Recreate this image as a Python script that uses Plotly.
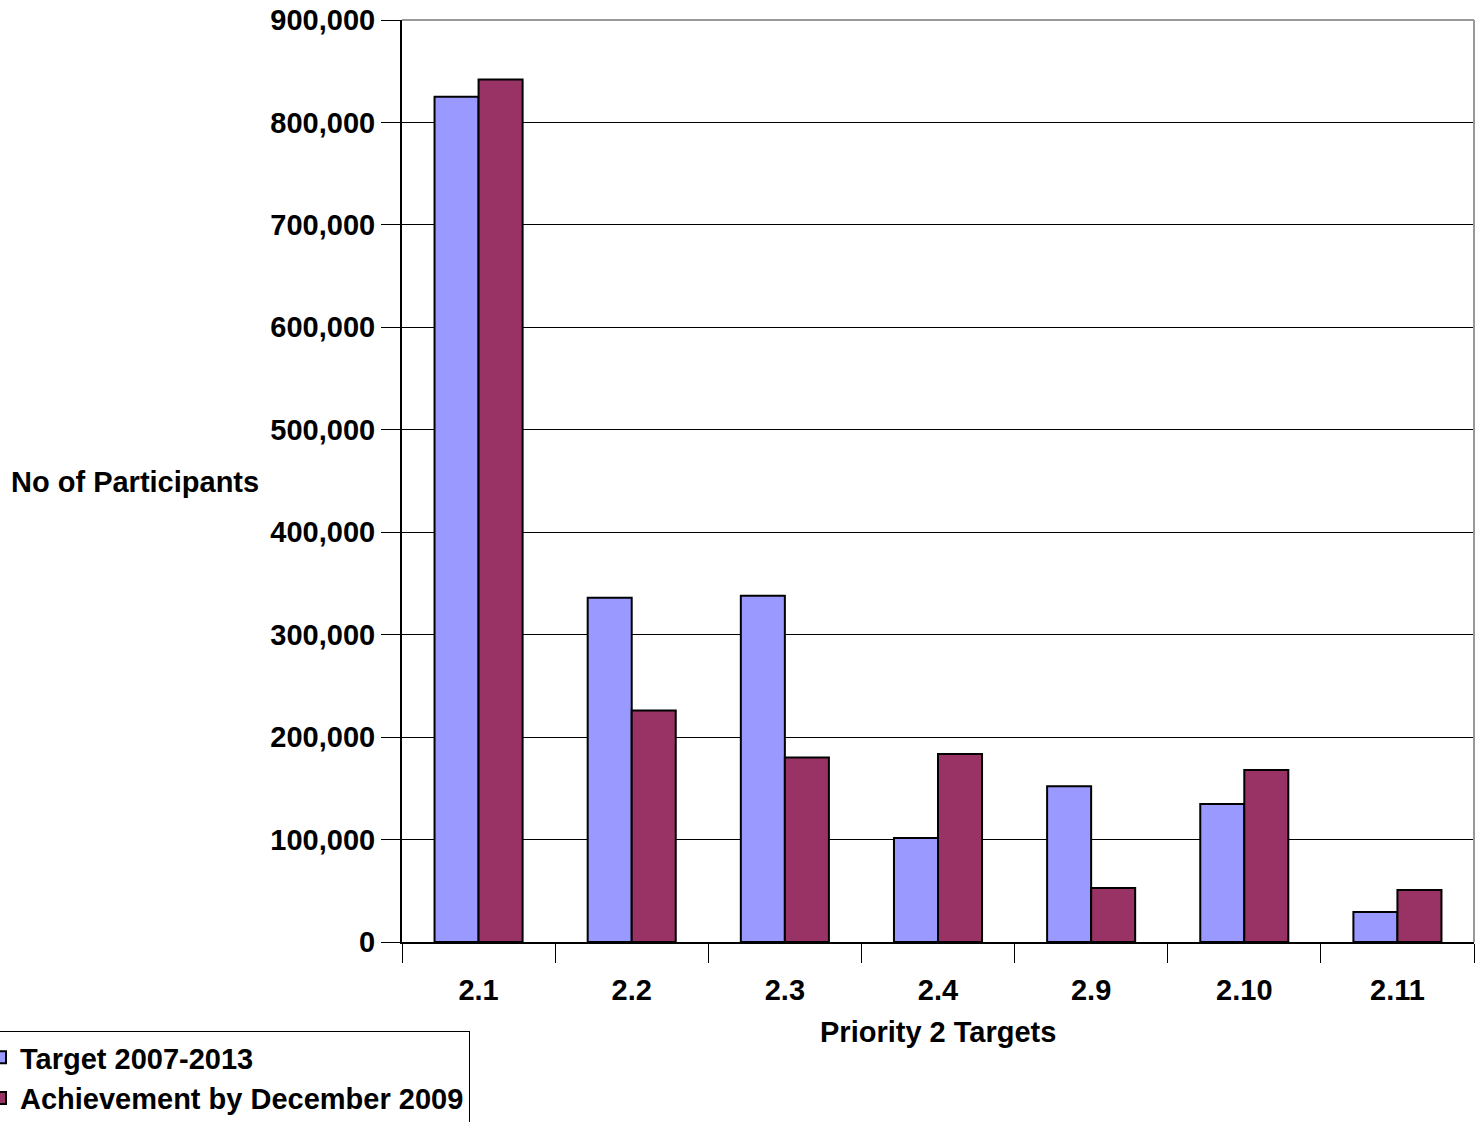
import plotly.graph_objects as go

categories = ["2.1", "2.2", "2.3", "2.4", "2.9", "2.10", "2.11"]
target = [825000, 336000, 338000, 101500, 152000, 134700, 29300]
achievement = [842000, 226000, 180000, 183500, 52700, 168000, 50800]
series_names = ["Target 2007-2013", "Achievement by December 2009"]
colors = ["#9999FF", "#993366"]

W, H = 1483, 1122
L, R, T, B = 402, 9, 20, 180
FONT = "Liberation Sans, Arial, sans-serif"
FS = 29

fig = go.Figure()
for name, vals, col, grp in [(series_names[0], target, colors[0], "a"),
                             (series_names[1], achievement, colors[1], "b")]:
    fig.add_trace(go.Bar(
        x=categories, y=vals, name=name, legendgroup=grp,
        marker=dict(color=col, line=dict(color="black", width=2)),
    ))

pw = W - L - R
ph = H - T - B

fig.update_layout(
    width=W, height=H,
    margin=dict(l=L, r=R, t=T, b=B, pad=0, autoexpand=False),
    paper_bgcolor="white", plot_bgcolor="white",
    barmode="group", bargap=0.425, bargroupgap=0,
    font=dict(family=FONT, size=FS, color="black"),
    showlegend=True,
    legend=dict(
        x=(-21 - L) / pw, xanchor="left",
        y=(942 - 1031) / ph, yanchor="top",
        bordercolor="black", borderwidth=1, bgcolor="white",
        font=dict(family=FONT, size=FS, color="black", weight="bold"),
        tracegroupgap=20, traceorder="normal",
    ),
    xaxis=dict(
        type="category", tickson="boundaries", automargin=False,
        ticks="outside", ticklen=19, tickwidth=1, tickcolor="black",
        showline=True, linecolor="black", linewidth=2,
        tickfont=dict(family=FONT, size=FS, color="black", weight="bold"),
        ticklabelstandoff=21,
        showgrid=False,
    ),
    yaxis=dict(
        range=[0, 900000], tickvals=list(range(0, 900001, 100000)),
        automargin=False,
        tickformat=",", ticks="outside", ticklen=19, tickwidth=1, tickcolor="black",
        showline=True, linecolor="black", linewidth=2,
        showgrid=True, gridcolor="black", gridwidth=1,
        zeroline=False,
        tickfont=dict(family=FONT, size=FS, color="black", weight="bold"),
    ),
    annotations=[
        dict(text="<b>No of Participants</b>", xref="paper", yref="paper",
             x=(135 - L) / pw, y=(942 - 482) / ph, xanchor="center", yanchor="middle",
             showarrow=False, font=dict(family=FONT, size=FS, color="black")),
        dict(text="<b>Priority 2 Targets</b>", xref="paper", yref="paper",
             x=0.5, y=(942 - 1032) / ph, xanchor="center", yanchor="middle",
             showarrow=False, font=dict(family=FONT, size=FS, color="black")),
    ],
    shapes=[
        dict(type="line", xref="paper", yref="paper", x0=0, x1=1, y0=1, y1=1,
             line=dict(color="#999999", width=2)),
        dict(type="line", xref="paper", yref="paper", x0=1, x1=1, y0=0, y1=1,
             line=dict(color="#999999", width=2)),
    ],
)

fig.write_html("out.html")
